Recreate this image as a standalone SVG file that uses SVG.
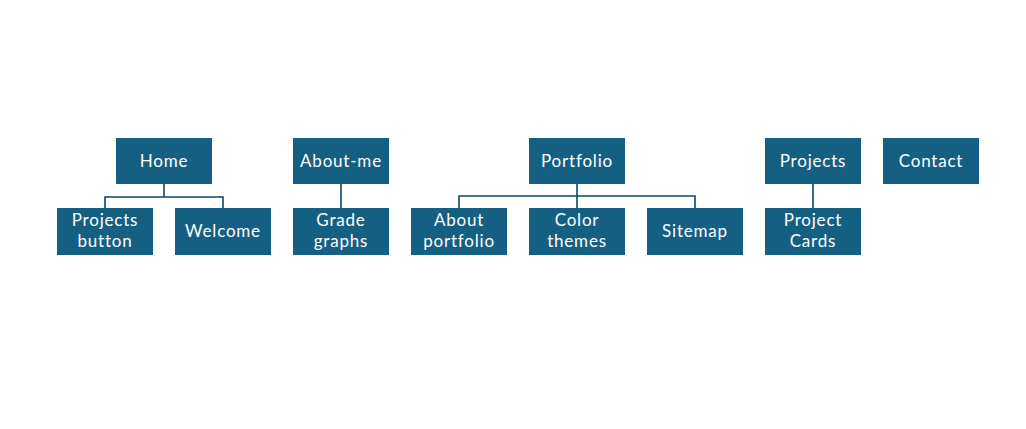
<svg xmlns="http://www.w3.org/2000/svg" width="1026" height="429" viewBox="0 0 1026 429">
<style>
.box{fill:#156082}
.t{font-family:Lato,"Open Sans","Liberation Sans",sans-serif;font-size:17px;letter-spacing:0.8px;fill:#ffffff;text-anchor:middle}
.c{fill:none;stroke:#0f4761;stroke-width:1.6}
</style>
<rect width="1026" height="429" fill="#ffffff"/>
<g id="connectors">
<path class="c" d="M164,184 V197 M105,208 V197 H223 V208"/>
<path class="c" d="M341,184 V208"/>
<path class="c" d="M577,184 V208 M459,208 V196 H695 V208"/>
<path class="c" d="M813,184 V208"/>
</g>
<g id="home"><rect class="box" x="116" y="138" width="96" height="46"/><text class="t" x="164" y="167">Home</text></g>
<g id="projects-button"><rect class="box" x="57" y="208" width="96" height="47"/><text class="t" x="105" y="226">Projects</text><text class="t" x="105" y="247">button</text></g>
<g id="welcome"><rect class="box" x="175" y="208" width="96" height="47"/><text class="t" x="223" y="237">Welcome</text></g>
<g id="about-me"><rect class="box" x="293" y="138" width="96" height="46"/><text class="t" x="341" y="167">About-me</text></g>
<g id="grade-graphs"><rect class="box" x="293" y="208" width="96" height="47"/><text class="t" x="341" y="226">Grade</text><text class="t" x="341" y="247">graphs</text></g>
<g id="portfolio"><rect class="box" x="529" y="138" width="96" height="46"/><text class="t" x="577" y="167">Portfolio</text></g>
<g id="about-portfolio"><rect class="box" x="411" y="208" width="96" height="47"/><text class="t" x="459" y="226">About</text><text class="t" x="459" y="247">portfolio</text></g>
<g id="color-themes"><rect class="box" x="529" y="208" width="96" height="47"/><text class="t" x="577" y="226">Color</text><text class="t" x="577" y="247">themes</text></g>
<g id="sitemap"><rect class="box" x="647" y="208" width="96" height="47"/><text class="t" x="695" y="237">Sitemap</text></g>
<g id="projects"><rect class="box" x="765" y="138" width="96" height="46"/><text class="t" x="813" y="167">Projects</text></g>
<g id="project-cards"><rect class="box" x="765" y="208" width="96" height="47"/><text class="t" x="813" y="226">Project</text><text class="t" x="813" y="247">Cards</text></g>
<g id="contact"><rect class="box" x="883" y="138" width="96" height="46"/><text class="t" x="931" y="167">Contact</text></g>
</svg>
